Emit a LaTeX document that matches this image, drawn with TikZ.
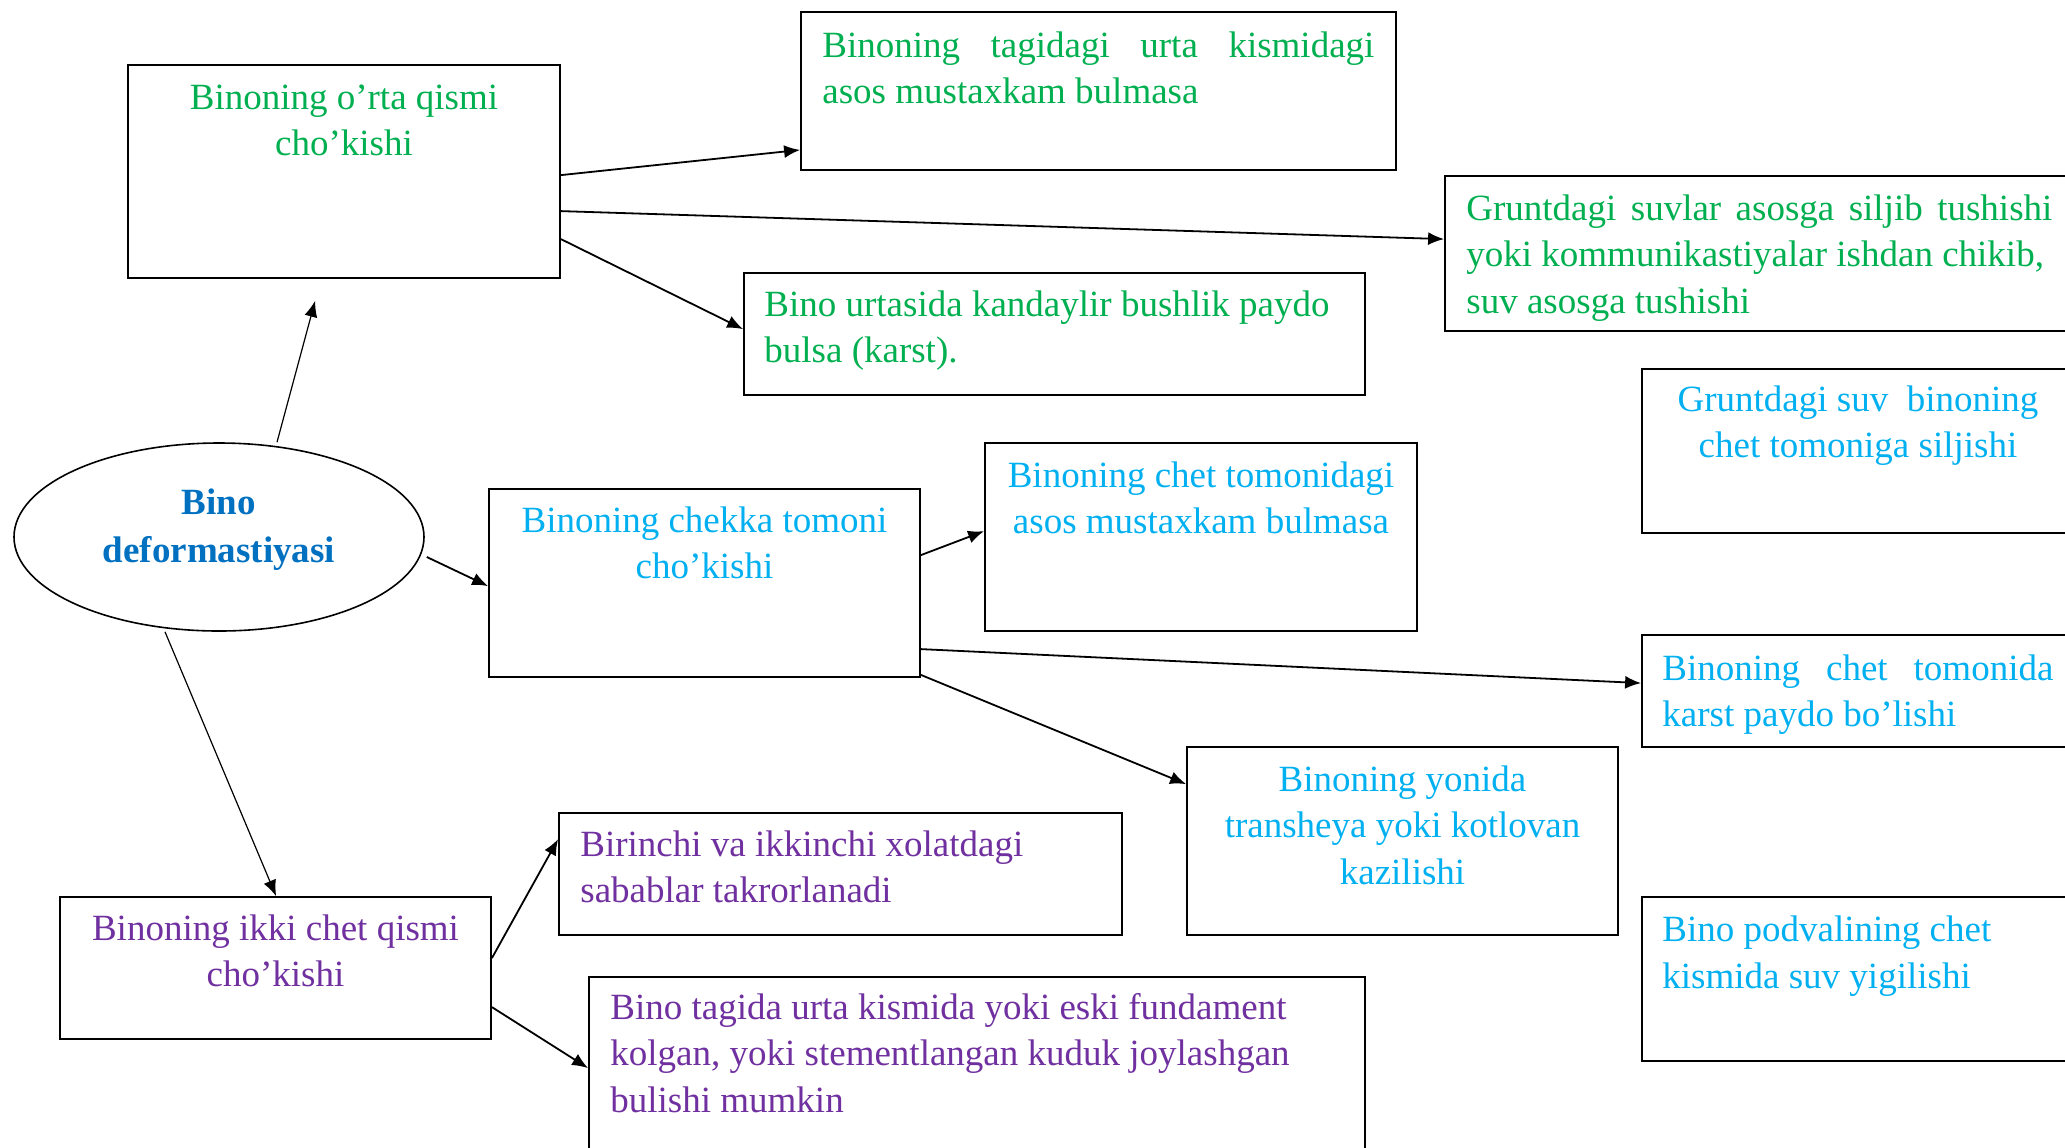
\documentclass[tikz,border=0pt]{standalone}
\usepackage{fontspec}
\setmainfont{Liberation Serif}
\usetikzlibrary{shapes.geometric,calc,arrows.meta}
\definecolor{cgreen}{HTML}{00B050}
\definecolor{ccyan}{HTML}{00B0F0}
\definecolor{cpurple}{HTML}{7030A0}
\definecolor{cblue}{HTML}{0070C0}
\tikzset{
  box/.style={draw=black, line width=0.9pt, rectangle, inner sep=0pt},
  ellbox/.style={draw=black, line width=0.8pt, ellipse, inner sep=0pt},
  txt/.style={inner sep=0pt, font=\fontsize{18.5pt}{23.3pt}\selectfont,
    execute at begin node={\spaceskip=0pt\xspaceskip=0pt\relax}},
  ctxt/.style={txt, align=flush center, anchor=base},
  ltxt/.style={txt, align=flush left, anchor=base west},
  arr/.style={-{Latex[length=8pt,width=6.5pt]}, line width=0.9pt},
}
\begin{document}
\begin{tikzpicture}[x=0.5pt,y=-0.5pt]
\useasboundingbox (0,0) rectangle (2065,1147);
\clip (0,0) rectangle (2065,1147);
\fill[white] (0,0) rectangle (2065,1147);

% boxes
\node[box, minimum width=216pt, minimum height=106.5pt] (A) at (344,171.5) {};
\node[box, minimum width=297.5pt, minimum height=79pt] (B) at (1098.5,91) {};
\node[box, minimum width=317.5pt, minimum height=77.5pt] (C) at (1762.5,253.5) {};
\node[box, minimum width=310.5pt, minimum height=61pt] (D) at (1054.5,334) {};
\node[box, minimum width=216pt, minimum height=82pt] (E) at (1858,451) {};
\node[ellbox, minimum width=205pt, minimum height=94pt] (ell) at (219,537) {};
\node[box, minimum width=215.5pt, minimum height=94pt] (F) at (704.5,583) {};
\node[box, minimum width=216pt, minimum height=94pt] (G) at (1201,537) {};
\node[box, minimum width=219pt, minimum height=56pt] (H) at (1861,691) {};
\node[box, minimum width=215.5pt, minimum height=94pt] (I) at (1402.5,841) {};
\node[box, minimum width=219pt, minimum height=82pt] (J) at (1861,979) {};
\node[box, minimum width=215.5pt, minimum height=71pt] (K) at (275.5,968) {};
\node[box, minimum width=281.5pt, minimum height=61pt] (L) at (840.5,874) {};
\node[box, minimum width=388pt, minimum height=91.5pt] (M) at (977,1068.5) {};

% texts
\node[ctxt, text=cgreen, text width=216pt] (tA) at (344,109) {Binoning o’rta qismi\\cho’kishi};
\node[ltxt, text=cgreen, text width=300pt] (tB) at (822,57) {\makebox[276pt]{Binoning\hfill tagidagi\hfill urta\hfill kismidagi}\\asos mustaxkam bulmasa};
\node[ltxt, text=cgreen, text width=320pt] (tC) at (1466,220) {\makebox[293pt]{Gruntdagi\hfill suvlar\hfill asosga\hfill siljib\hfill tushishi}\\yoki kommunikastiyalar ishdan chikib,\\suv asosga tushishi};
\node[ltxt, text=cgreen, text width=300pt] (tD) at (764,316) {Bino urtasida kandaylir bushlik paydo\\bulsa (karst).};
\node[ctxt, text=ccyan, text width=216pt] (tE) at (1858,411) {Gruntdagi suv\ \ binoning\\chet tomoniga siljishi};
\node[ctxt, text=cblue, text width=200pt, font=\fontsize{18.5pt}{24pt}\selectfont\bfseries] (tell) at (219,514) {Bino\\deformastiyasi};
\node[ctxt, text=ccyan, text width=215pt] (tF) at (704.5,532) {Binoning chekka tomoni\\cho’kishi};
\node[ctxt, text=ccyan, text width=216pt] (tG) at (1201,487) {Binoning chet tomonidagi\\asos mustaxkam bulmasa};
\node[ltxt, text=ccyan, text width=210pt] (tH) at (1662,680) {\makebox[195.5pt]{Binoning\hfill chet\hfill tomonida}\\karst paydo bo’lishi};
\node[ctxt, text=ccyan, text width=215pt] (tI) at (1402.5,791) {Binoning yonida\\transheya yoki kotlovan\\kazilishi};
\node[ltxt, text=ccyan, text width=200pt] (tJ) at (1662,941.5) {Bino podvalining chet\\kismida suv yigilishi};
\node[ctxt, text=cpurple, text width=215pt] (tK) at (275.5,940) {Binoning ikki chet qismi\\cho’kishi};
\node[ltxt, text=cpurple, text width=270pt] (tL) at (580,856) {Birinchi va ikkinchi xolatdagi\\sabablar takrorlanadi};
\node[ltxt, text=cpurple, text width=360pt] (tM) at (610,1019) {Bino tagida urta kismida yoki eski fundament\\kolgan, yoki stementlangan kuduk joylashgan\\bulishi mumkin};

% arrows
\draw[arr, line width=0.6pt] ($(ell.north)+(58,0)$) -- ($(A.south west)+(188,22)$);
\draw[arr] ($(A.north east)+(0,111)$) -- ($(B.south west)+(0,-21)$);
\draw[arr] ($(A.north east)+(0,147)$) -- ($(C.north west)+(0,64)$);
\draw[arr] ($(A.north east)+(0,175)$) -- ($(D.north west)+(0,57)$);
\draw[arr] ($(ell.east)+(2,20)$) -- ($(F.north west)+(0,98)$);
\draw[arr] ($(F.north east)+(0,67)$) -- ($(G.north west)+(0,89)$);
\draw[arr] ($(F.north east)+(0,161)$) -- ($(H.north west)+(0,49)$);
\draw[arr] ($(F.south east)+(0,-3)$) -- ($(I.north west)+(0,38)$);
\draw[arr, line width=0.6pt] ($(ell.south)+(-54,0)$) -- ($(K.north west)+(217,0)$);
\draw[arr] ($(K.north east)+(0,62)$) -- ($(L.north west)+(0,27)$);
\draw[arr] ($(K.north east)+(0,111)$) -- ($(M.north west)+(0,92)$);
\end{tikzpicture}
\end{document}
